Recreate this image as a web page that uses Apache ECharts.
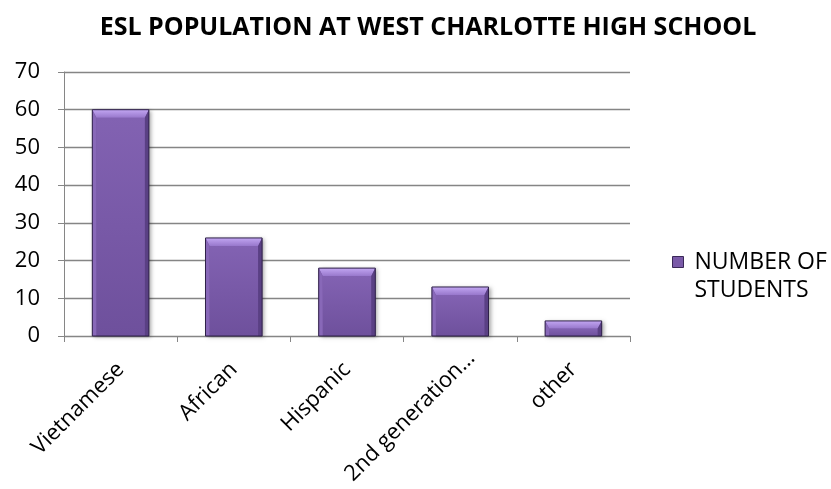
<!DOCTYPE html>
<html>
<head>
<meta charset="utf-8">
<script src="https://cdn.jsdelivr.net/npm/echarts@6/dist/echarts.min.js"></script>
<style>html,body{margin:0;padding:0;background:#fff}#c{width:831px;height:489px}</style>
</head>
<body>
<div id="c"></div>
<script>
const titleText = 'ESL POPULATION AT WEST CHARLOTTE HIGH SCHOOL';
const seriesName = 'NUMBER OF STUDENTS';
const legendLines = ['NUMBER OF', 'STUDENTS'];
const categories = ['Vietnamese', 'African', 'Hispanic', '2nd generation…', 'other'];
const values = [60, 26, 18, 13, 4];
const yMin = 0, yMax = 70, yInterval = 10;

const FONT = '"Open Sans", sans-serif';
const LABEL_SIZE = 22;
const chart = echarts.init(document.getElementById('c'), null, {renderer: 'canvas'});

// measure label width to nudge the truncated (long) label the way the original does
const mctx = document.createElement('canvas').getContext('2d');
mctx.font = LABEL_SIZE + 'px "Open Sans", sans-serif';
function labelItem(name) {
  if (name.indexOf('…') < 0) return name;
  const w = mctx.measureText(name).width;
  const shiftAlong = 16;
  return {
    value: name,
    textStyle: {align: 'center', padding: [0, Math.max(0, w - 2 * shiftAlong), 14, 0]}
  };
}

function renderBar(params, api) {
  const idx = api.value(0), v = api.value(1);
  const top = api.coord([idx, v]);
  const base = api.coord([idx, 0]);
  const band = api.size([1, 0])[0];
  const w = band * 0.5;
  const x0 = top[0] - w / 2, x1 = x0 + w, y0 = top[1], yb = base[1];
  const h = yb - y0;
  const t = Math.min(8, h / 2), s = 4;
  return {
    type: 'group',
    children: [
      {type: 'rect', shape: {x: x0, y: y0, width: w, height: h},
        style: {fill: '#6f519d', shadowColor: 'rgba(0,0,0,0.35)', shadowBlur: 4, shadowOffsetX: 2, shadowOffsetY: 1}},
      {type: 'rect', shape: {x: x0 + s, y: y0 + t, width: w - 2 * s, height: h - t},
        style: {fill: new echarts.graphic.LinearGradient(0, 0, 0, 1, [
          {offset: 0, color: '#8262b2'}, {offset: 1, color: '#6e509c'}])}},
      {type: 'polygon', shape: {points: [[x0, y0], [x1, y0], [x1 - s, y0 + t], [x0 + s, y0 + t]]},
        style: {fill: new echarts.graphic.LinearGradient(0, 0, 0, 1, [
          {offset: 0, color: '#c2a6f2'}, {offset: 1, color: '#9878cc'}])}},
      {type: 'polygon', shape: {points: [[x0, y0], [x0 + s, y0 + t], [x0 + s, yb], [x0, yb]]},
        style: {fill: '#8868b8'}},
      {type: 'polygon', shape: {points: [[x1, y0], [x1, yb], [x1 - s, yb], [x1 - s, y0 + t]]},
        style: {fill: '#5a4084'}},
      {type: 'rect', shape: {x: x0, y: y0, width: w, height: h},
        style: {fill: 'none', stroke: '#2f2149', lineWidth: 1}}
    ]
  };
}

const option = {
  animation: false,
  backgroundColor: '#ffffff',
  title: {
    text: titleText,
    left: 423,
    top: 10,
    textAlign: 'center',
    textStyle: {fontFamily: FONT, fontWeight: 'bold', fontSize: 25, color: '#000'}
  },
  legend: {
    left: 672,
    top: 220,
    padding: 0,
    orient: 'vertical',
    icon: 'rect',
    itemWidth: 11,
    itemHeight: 11,
    formatter: function () { return ' \n' + legendLines.join('\n'); },
    textStyle: {fontFamily: FONT, fontSize: 23, color: '#000', lineHeight: 28, padding: [0, 0, 0, 6]},
    data: [{name: seriesName, itemStyle: {color: '#7a5aa8', borderColor: '#3a2858', borderWidth: 1}}]
  },
  grid: {left: 64, right: 201, top: 72, bottom: 153, containLabel: false, outerBoundsMode: 'none'},
  xAxis: {
    type: 'category',
    data: categories.map(labelItem),
    boundaryGap: true,
    axisLine: {lineStyle: {color: '#868686', width: 1}},
    axisTick: {show: true, length: 6, lineStyle: {color: '#868686'}},
    axisLabel: {rotate: 45, margin: 30, interval: 0, fontFamily: FONT, fontSize: LABEL_SIZE, color: '#000'}
  },
  yAxis: {
    type: 'value',
    min: yMin, max: yMax, interval: yInterval,
    axisLine: {show: true, lineStyle: {color: '#868686', width: 1}},
    axisTick: {show: true, length: 6, lineStyle: {color: '#868686'}},
    splitLine: {lineStyle: {color: '#858585', width: 1.3}},
    axisLabel: {margin: 24, fontFamily: FONT, fontSize: 22, color: '#000'}
  },
  series: [{
    name: seriesName,
    type: 'custom',
    renderItem: renderBar,
    encode: {x: 0, y: 1},
    itemStyle: {color: '#7a5aa8'},
    data: values.map((v, i) => [i, v])
  }]
};
chart.setOption(option);
</script>
</body>
</html>
